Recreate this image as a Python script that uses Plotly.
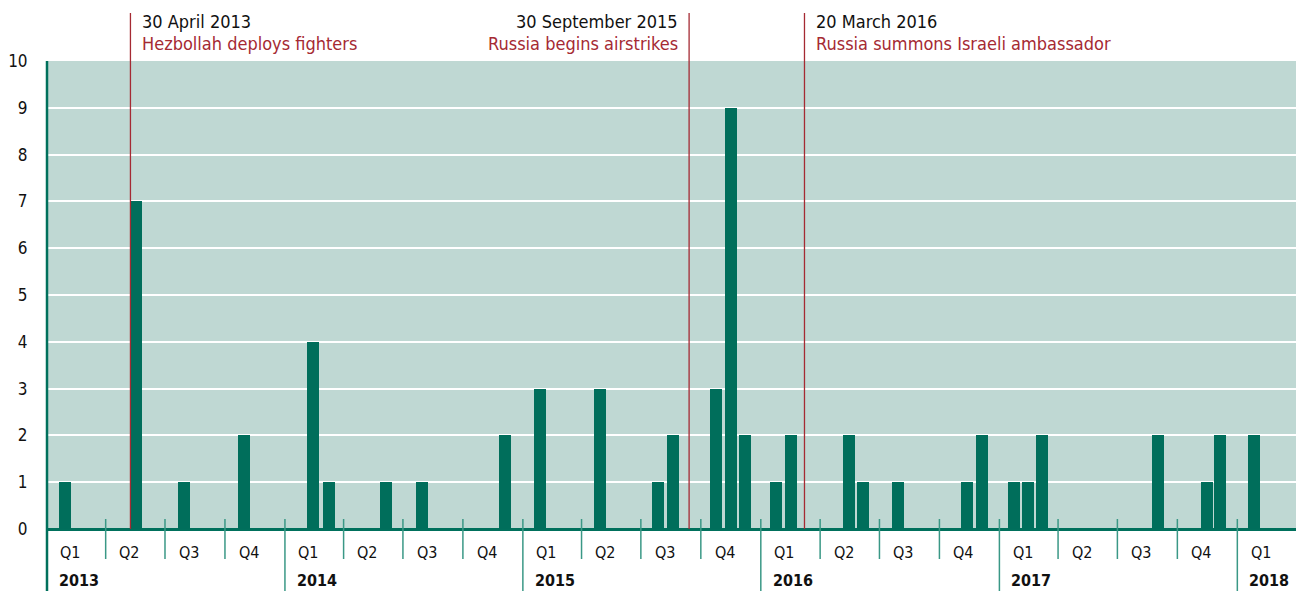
import plotly.graph_objects as go
import pandas as pd

# ---- data ----
bar_dates = [
    "2013-01-28", "2013-05-18", "2013-07-30", "2013-10-30",
    "2014-02-13", "2014-03-09", "2014-06-05", "2014-07-30", "2014-12-04",
    "2015-01-28", "2015-04-29", "2015-07-28", "2015-08-19",
    "2015-10-25", "2015-11-16", "2015-12-07",
    "2016-01-25", "2016-02-16", "2016-05-15", "2016-06-05", "2016-07-29",
    "2016-11-13", "2016-12-05",
    "2017-01-23", "2017-02-14", "2017-03-08", "2017-09-02",
    "2017-11-15", "2017-12-06", "2018-01-26",
]
bar_values = [
    1, 7, 1, 2,
    4, 1, 1, 1, 2,
    3, 3, 1, 2,
    3, 9, 2,
    1, 2, 2, 1, 1,
    1, 2,
    1, 1, 2, 2,
    1, 2, 2,
]

event_dates = ["2013-05-09", "2015-09-13", "2016-03-08"]
event_titles = ["30 April 2013", "30 September 2015", "20 March 2016"]
event_texts = ["Hezbollah deploys fighters", "Russia begins airstrikes",
               "Russia summons Israeli ambassador"]
event_sides = ["right", "left", "right"]

quarter_labels = ["Q1", "Q2", "Q3", "Q4"]
x_start = "2013-01-01"
x_end = "2018-04-01"
y_ticks = list(range(0, 11))

# ---- styling ----
FONT = "DejaVu Sans Condensed, Liberation Sans Narrow, Arial Narrow, sans-serif"
BG = "#bfd8d3"
BAR = "#006e5b"
AXIS = "#00705c"
TICK = "#3a9886"
RED = "#a52a33"

W, H = 1296, 591
ML, MR, MT, MB = 47, 0, 61, 62
PH = H - MT - MB

def py(px):
    """pixel offset below baseline -> paper y"""
    return -px / PH

fig = go.Figure()
fig.add_trace(go.Bar(
    x=pd.to_datetime(bar_dates), y=bar_values,
    width=[18.4 * 86400000] * len(bar_values),
    marker=dict(color=BAR, line=dict(width=0)),
    hoverinfo="x+y",
))

shapes = []
annotations = []

# quarter and year separators + labels
quarters = pd.date_range(x_start, x_end, freq="QS")
for i, q in enumerate(quarters[:-1]):
    nxt = quarters[i + 1]
    is_year = q.month == 1
    if i > 0:
        shapes.append(dict(type="line", xref="x", yref="paper",
                           x0=q, x1=q, y0=10 / PH, y1=py(62 if is_year else 30),
                           line=dict(color=TICK, width=1.5)))
    mid = q + (nxt - q) / 2
    annotations.append(dict(x=mid, y=py(23), xref="x", yref="paper",
                            text=quarter_labels[(q.month - 1) // 3],
                            showarrow=False, xanchor="center", yanchor="middle",
                            xshift=-6,
                            font=dict(family=FONT, size=16, color="#111111")))
    if is_year:
        annotations.append(dict(x=q, y=py(51), xref="x", yref="paper",
                                text="<b>%d</b>" % q.year,
                                showarrow=False, xanchor="left", yanchor="middle",
                                xshift=10,
                                font=dict(family=FONT, size=16, color="#111111")))

# left axis line
shapes.append(dict(type="line", xref="paper", yref="paper",
                   x0=0, x1=0, y0=1, y1=py(62),
                   line=dict(color=AXIS, width=2.5)))

# event lines and labels
for d, t1, t2, side in zip(event_dates, event_titles, event_texts, event_sides):
    shapes.append(dict(type="line", xref="x", yref="paper",
                       x0=d, x1=d, y0=0, y1=(PH + MT - 13) / PH,
                       line=dict(color=RED, width=1.3)))
    xa = "left" if side == "right" else "right"
    xs = 10 if side == "right" else -9
    annotations.append(dict(x=d, y=(PH + MT - 21) / PH, xref="x", yref="paper",
                            text=t1, showarrow=False, xanchor=xa,
                            yanchor="middle", xshift=xs,
                            font=dict(family=FONT, size=18, color="#111111")))
    annotations.append(dict(x=d, y=(PH + MT - 44) / PH, xref="x", yref="paper",
                            text=t2, showarrow=False, xanchor=xa,
                            yanchor="middle", xshift=xs,
                            font=dict(family=FONT, size=18, color=RED)))

fig.update_layout(
    width=W, height=H,
    margin=dict(l=ML, r=MR, t=MT, b=MB, pad=0),
    paper_bgcolor="white", plot_bgcolor=BG,
    showlegend=False, bargap=0,
    shapes=shapes, annotations=annotations,
    xaxis=dict(type="date", range=[x_start, x_end], showgrid=False,
               showticklabels=False, ticks="", zeroline=False,
               showline=False, fixedrange=True),
    yaxis=dict(range=[0, 10], tickvals=y_ticks, showgrid=True,
               gridcolor="white", gridwidth=1.5, zeroline=True,
               zerolinecolor=AXIS, zerolinewidth=2.5, showline=False,
               ticks="outside", ticklen=15, tickcolor="rgba(0,0,0,0)",
               tickfont=dict(family=FONT, size=17, color="#111111"),
               fixedrange=True),
)

fig.write_html("out.html",
               config={"displayModeBar": False},
               post_script="document.body.style.margin='0';"
                           "document.body.style.overflow='hidden';")
